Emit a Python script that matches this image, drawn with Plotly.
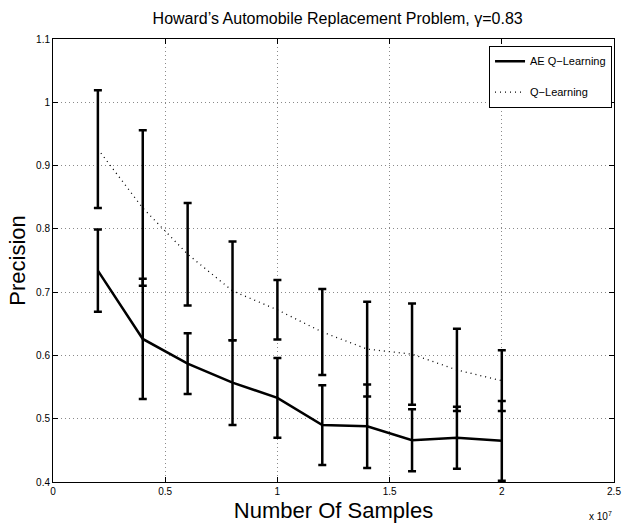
import plotly.graph_objects as go

samples = [2e6, 4e6, 6e6, 8e6, 10e6, 12e6, 14e6, 16e6, 18e6, 20e6]
ae_mean = [0.734, 0.626, 0.587, 0.557, 0.533, 0.490, 0.488, 0.466, 0.470, 0.465]
ae_err = [0.065, 0.095, 0.048, 0.067, 0.063, 0.063, 0.066, 0.049, 0.049, 0.063]
q_mean = [0.926, 0.833, 0.760, 0.702, 0.672, 0.637, 0.610, 0.602, 0.577, 0.560]
q_err = [0.093, 0.123, 0.081, 0.078, 0.047, 0.068, 0.075, 0.080, 0.065, 0.048]

x_ticks = [0, 0.5e7, 1e7, 1.5e7, 2e7, 2.5e7]
x_tick_text = ["0", "0.5", "1", "1.5", "2", "2.5"]
y_ticks = [0.4, 0.5, 0.6, 0.7, 0.8, 0.9, 1, 1.1]
y_tick_text = ["0.4", "0.5", "0.6", "0.7", "0.8", "0.9", "1", "1.1"]

FONT = "Liberation Sans, Arial, Helvetica, sans-serif"

fig = go.Figure()
fig.add_trace(go.Scatter(
    x=samples, y=ae_mean, mode="lines", name="AE Q\u2212Learning",
    legendgroup="ae",
    line=dict(color="black", width=2.5),
    error_y=dict(type="data", array=ae_err, color="black", thickness=2.5, width=4),
))
fig.add_trace(go.Scatter(
    x=samples, y=q_mean, mode="lines", name="Q\u2212Learning",
    legendgroup="q",
    line=dict(color="black", width=1.3, dash="1px,4px"),
    error_y=dict(type="data", array=q_err, color="black", thickness=2.5, width=4),
))

axis_common = dict(
    showline=True, linecolor="black", linewidth=1, mirror="ticks",
    ticks="inside", ticklen=5, tickcolor="black", automargin=False,
    showgrid=True, gridcolor="#8a8a8a", griddash="1px,3px", gridwidth=1,
    zeroline=False, tickfont=dict(size=10, color="black", family=FONT),
)

fig.update_layout(
    width=630, height=523,
    margin=dict(l=53, r=16, t=39, b=41),
    paper_bgcolor="white", plot_bgcolor="white",
    font=dict(family=FONT, color="black"),
    title=dict(text="Howard\u2019s Automobile Replacement Problem, \u03b3=0.83",
               x=0.536, xanchor="center", y=0.975, yanchor="top",
               font=dict(size=16, color="black", family=FONT)),
    xaxis=dict(range=[0, 2.5e7], tickvals=x_ticks, ticktext=x_tick_text,
               title=dict(text="Number Of Samples", font=dict(size=22), standoff=12),
               **axis_common),
    yaxis=dict(range=[0.4, 1.1], tickvals=y_ticks, ticktext=y_tick_text,
               title=dict(text="Precision", font=dict(size=22), standoff=4),
               **axis_common),
    legend=dict(x=0.9965, xanchor="right", y=0.985, yanchor="top",
                bordercolor="black", borderwidth=1, bgcolor="white",
                font=dict(size=11, color="black"), tracegroupgap=12),
    showlegend=True,
)
fig.add_annotation(text="x 10<sup>7</sup>", xref="paper", yref="paper",
                   x=1.0, y=-0.077, xanchor="right", yanchor="middle",
                   showarrow=False, font=dict(size=10, color="black"))

fig.write_html("out.html")
